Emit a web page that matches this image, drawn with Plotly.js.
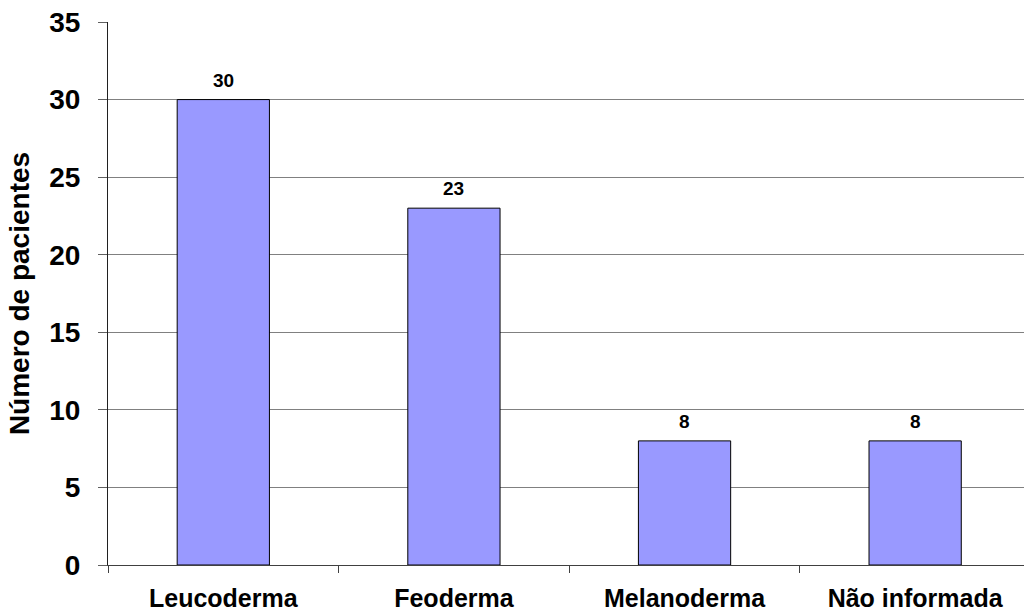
<!DOCTYPE html>
<html>
<head>
<meta charset="utf-8">
<script src="https://cdn.plot.ly/plotly-3.0.1.min.js"></script>
<style>
  html, body { margin: 0; padding: 0; background: #ffffff; }
  #chart { width: 1024px; height: 615px; }
</style>
</head>
<body>
<div id="chart"></div>
<script>
// Pacientes por cor da pele
const categories = ["Leucoderma", "Feoderma", "Melanoderma", "Não informada"];
const patients = [30, 23, 8, 8];
const yTicks = [0, 5, 10, 15, 20, 25, 30, 35];

const FONT = "'Liberation Sans', Arial, sans-serif";

const bars = {
  type: "bar",
  x: categories,
  y: patients,
  width: 0.4,
  marker: { color: "#9999ff", line: { color: "#000000", width: 1 } },
  hoverinfo: "x+y"
};

// value labels above each bar
const valueLabels = categories.map((c, i) => ({
  x: c,
  y: patients[i],
  text: "<b>" + patients[i] + "</b>",
  showarrow: false,
  xanchor: "center",
  yanchor: "bottom",
  yshift: 7,
  font: { family: FONT, size: 19, color: "#000000" }
}));

const layout = {
  width: 1024,
  height: 615,
  margin: { l: 108, r: 0, t: 22, b: 50 },
  paper_bgcolor: "#ffffff",
  plot_bgcolor: "#ffffff",
  showlegend: false,
  xaxis: {
    type: "category",
    range: [-0.5, 3.472],
    showgrid: false,
    zeroline: false,
    showline: true,
    linecolor: "#404040",
    linewidth: 1,
    ticks: "outside",
    tickson: "boundaries",
    ticklen: 7,
    tickcolor: "#404040",
    ticklabelstandoff: 11,
    tickfont: { family: FONT, size: 25, color: "#000000", weight: "bold" }
  },
  yaxis: {
    range: [0, 35],
    tickvals: yTicks,
    ticktext: yTicks.map(String),
    showgrid: true,
    gridcolor: "#808080",
    gridwidth: 1,
    zeroline: false,
    showline: true,
    linecolor: "#202020",
    linewidth: 1,
    ticks: "outside",
    ticklen: 9,
    tickcolor: "#606060",
    ticklabelstandoff: 12,
    tickfont: { family: FONT, size: 28, color: "#000000", weight: "bold" },
    title: {
      text: "<b>Número de pacientes</b>",
      standoff: 11,
      font: { family: FONT, size: 28, color: "#000000" }
    }
  },
  annotations: valueLabels
};

Plotly.newPlot("chart", [bars], layout, { displayModeBar: false, staticPlot: true });
</script>
</body>
</html>
